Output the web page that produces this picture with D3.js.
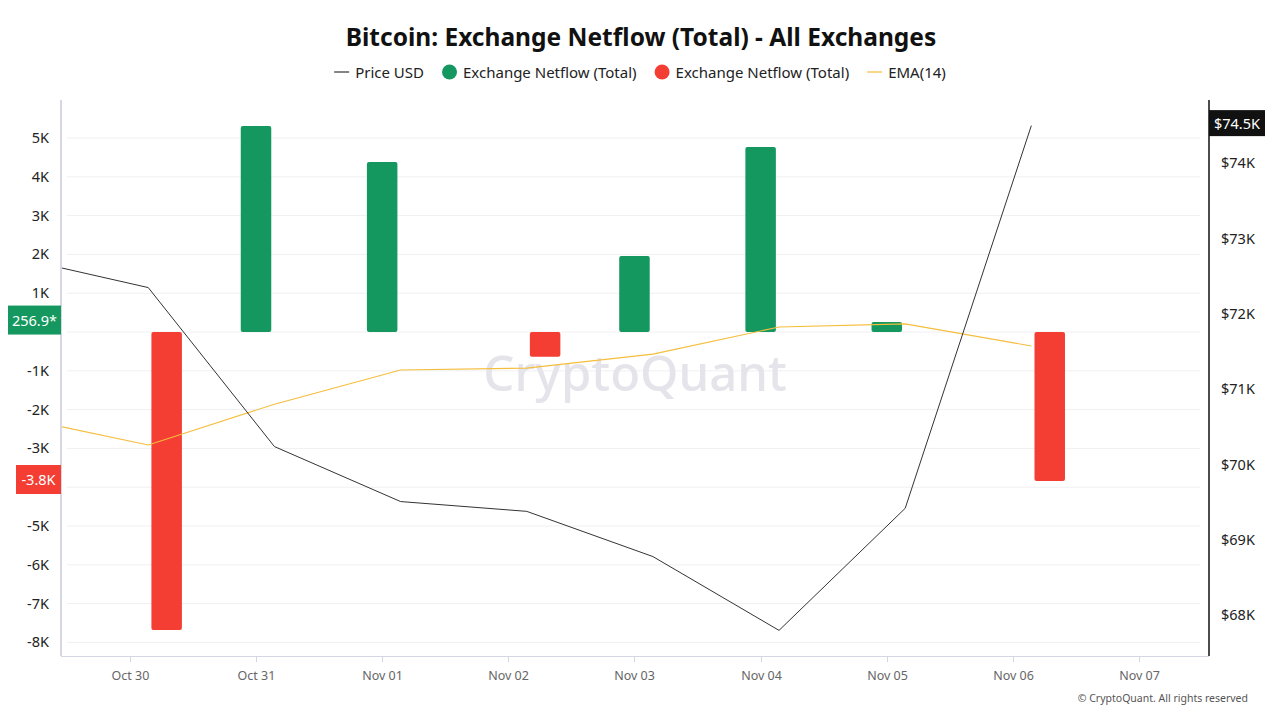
<!DOCTYPE html>
<html>
<head>
<meta charset="utf-8">
<script src="https://cdn.jsdelivr.net/npm/d3@7"></script>
<style>
  html, body { margin: 0; padding: 0; background: #fff; }
  svg { display: block; font-family: "Noto Sans", "Open Sans", sans-serif; }
</style>
</head>
<body>
<svg id="chart" width="1280" height="720"></svg>
<script>
// ---- data ----
const dates = ["2024-10-29","2024-10-30","2024-10-31","2024-11-01","2024-11-02","2024-11-03","2024-11-04","2024-11-05","2024-11-06"];
const priceUSD = [72730, 72350, 70240, 69510, 69380, 68780, 67800, 69420, 74500];
const ema14 = [-2230, -2910, -1860, -980, -930, -570, 130, 210, -360];
const netflowDates = ["2024-10-30","2024-10-31","2024-11-01","2024-11-02","2024-11-03","2024-11-04","2024-11-05","2024-11-06"];
const netflow = [-7680, 5310, 4380, -640, 1960, 4770, 256.9, -3840];
const xTickDates = ["2024-10-30","2024-10-31","2024-11-01","2024-11-02","2024-11-03","2024-11-04","2024-11-05","2024-11-06","2024-11-07"];
const leftTicks = [-8000,-7000,-6000,-5000,-4000,-3000,-2000,-1000,0,1000,2000,3000,4000,5000];
const rightTicks = [68000,69000,70000,71000,72000,73000,74000];

const colors = { green: "#14985f", red: "#f43e34", price: "#333333", ema: "#f5bd3c" };

const svg = d3.select("#chart");
const plot = { left: 61, right: 1209, top: 100, bottom: 656 };
const parse = d3.utcParse("%Y-%m-%d");
const hr = 3600 * 1000;

const x = d3.scaleUtc()
  .domain([new Date(+parse("2024-10-30") - 13.1 * hr), new Date(+parse("2024-11-07") + 13.3 * hr)])
  .range([plot.left, plot.right]);
const yL = d3.scaleLinear().domain([-8350, 5980]).range([plot.bottom, plot.top]);
const yR = d3.scaleLinear().domain([67460, 74840]).range([plot.bottom, plot.top]);

// clip
svg.append("defs").append("clipPath").attr("id", "clip")
  .append("rect").attr("x", plot.left).attr("y", plot.top)
  .attr("width", plot.right - plot.left).attr("height", plot.bottom - plot.top);

// title
svg.append("text").attr("x", 641).attr("y", 46).attr("text-anchor", "middle")
  .attr("font-size", 24.5).attr("font-weight", 700).attr("fill", "#111")
  .text("Bitcoin: Exchange Netflow (Total) - All Exchanges");

// legend
const legend = svg.append("g");
const items = [
  { type: "line", color: colors.price, label: "Price USD" },
  { type: "dot", color: colors.green, label: "Exchange Netflow (Total)" },
  { type: "dot", color: colors.red, label: "Exchange Netflow (Total)" },
  { type: "line", color: colors.ema, label: "EMA(14)" }
];
let lx = 0;
const gap = 18;
items.forEach((it) => {
  const g = legend.append("g").attr("transform", `translate(${lx},0)`);
  if (it.type === "line") {
    g.append("line").attr("x1", 0).attr("x2", 15).attr("y1", 0).attr("y2", 0)
      .attr("stroke", it.color).attr("stroke-width", 1.2);
  } else {
    g.append("circle").attr("cx", 7.5).attr("cy", 0).attr("r", 7.5).attr("fill", it.color);
  }
  const t = g.append("text").attr("x", 21).attr("y", 5.5)
    .attr("font-size", 15).attr("fill", "#222").text(it.label);
  lx += 21 + t.node().getComputedTextLength() + gap;
});
const legW = lx - gap;
legend.attr("transform", `translate(${640 - legW / 2},72)`);

// gridlines
svg.append("g").selectAll("line").data(leftTicks).join("line")
  .attr("x1", 67).attr("x2", 1200)
  .attr("y1", d => yL(d)).attr("y2", d => yL(d))
  .attr("stroke", "#f0f0f3").attr("stroke-width", 1);

// watermark
svg.append("text").attr("x", 635).attr("y", 391).attr("text-anchor", "middle")
  .attr("font-size", 49).attr("font-weight", 500).attr("fill", "#e4e4ea")
  .text("CryptoQuant");

// bars
const barW = 30.5;
const bars = svg.append("g").attr("clip-path", "url(#clip)");
netflowDates.forEach((ds, i) => {
  const v = netflow[i];
  const pos = v >= 0;
  const cx = pos ? x(parse(ds)) : x(new Date(+parse(ds) + 7 * hr));
  const y0 = yL(0), y1 = yL(v);
  bars.append("rect")
    .attr("x", cx - barW / 2).attr("width", barW)
    .attr("y", Math.min(y0, y1)).attr("height", Math.abs(y1 - y0))
    .attr("rx", 2).attr("fill", pos ? colors.green : colors.red);
});

// lines
const pts = dates.map((d, i) => ({ t: new Date(+parse(d) + 3.5 * hr), p: priceUSD[i], e: ema14[i] }));
const lines = svg.append("g").attr("clip-path", "url(#clip)");
lines.append("path").datum(pts)
  .attr("d", d3.line().x(d => x(d.t)).y(d => yL(d.e)))
  .attr("fill", "none").attr("stroke", colors.ema).attr("stroke-width", 1.1);
lines.append("path").datum(pts)
  .attr("d", d3.line().x(d => x(d.t)).y(d => yR(d.p)))
  .attr("fill", "none").attr("stroke", colors.price).attr("stroke-width", 1);

// axes lines
svg.append("line").attr("x1", plot.left).attr("x2", plot.left).attr("y1", plot.top).attr("y2", plot.bottom)
  .attr("stroke", "#d6d6e4").attr("stroke-width", 2);
svg.append("line").attr("x1", plot.left).attr("x2", plot.right).attr("y1", plot.bottom + 0.5).attr("y2", plot.bottom + 0.5)
  .attr("stroke", "#d4d6e2").attr("stroke-width", 1);
svg.append("line").attr("x1", plot.right).attr("x2", plot.right).attr("y1", plot.top).attr("y2", plot.bottom)
  .attr("stroke", "#111").attr("stroke-width", 1.5);

// x ticks
const xg = svg.append("g");
xTickDates.forEach(ds => {
  const xx = Math.round(x(parse(ds))) + 0.5;
  xg.append("line").attr("x1", xx).attr("x2", xx).attr("y1", plot.bottom).attr("y2", plot.bottom + 6)
    .attr("stroke", "#d4d6e2");
  xg.append("text").attr("x", xx).attr("y", 680).attr("text-anchor", "middle")
    .attr("font-size", 12.5).attr("fill", "#666").text(d3.utcFormat("%b %d")(parse(ds)));
});

// badges values
const lastGreen = netflow[6];
const lastRed = netflow[7];
const lastPrice = priceUSD[priceUSD.length - 1];

// left ticks (labels hidden behind the value badges are skipped)
const fmtK = d => (d === 0 ? "0" : (d / 1000) + "K");
const covered = [yL(lastGreen) - 2, yL(lastRed) - 1.5];
svg.append("g").selectAll("text")
  .data(leftTicks.filter(d => covered.every(c => Math.abs(yL(d) - c) > 16)))
  .join("text")
  .attr("x", 49).attr("y", d => yL(d) + 5).attr("text-anchor", "end")
  .attr("font-size", 14.5).attr("fill", "#222").text(fmtK);

// right ticks
svg.append("g").selectAll("text").data(rightTicks).join("text")
  .attr("x", 1221).attr("y", d => yR(d) + 5)
  .attr("font-size", 14.5).attr("fill", "#222").text(d => "$" + (d / 1000) + "K");

// badges
function badge(xr, cy, w, h, fill, label, anchorLeft) {
  const g = svg.append("g");
  const xx = anchorLeft ? xr : xr - w;
  g.append("rect").attr("x", xx).attr("y", cy - h / 2).attr("width", w).attr("height", h).attr("fill", fill);
  g.append("text").attr("x", xx + w / 2).attr("y", cy + 5.5).attr("text-anchor", "middle")
    .attr("font-size", 14.5).attr("fill", "#fff").text(label);
}
const hyph = s => s.replace("\u2212", "-");
badge(plot.left, covered[0], 53, 29, colors.green, lastGreen.toFixed(1) + "*", false);
badge(plot.left, covered[1], 45, 29, colors.red, hyph((lastRed / 1000).toFixed(1)) + "K", false);
badge(plot.right, yR(lastPrice) - 2.5, 56, 26, "#111", "$" + (lastPrice / 1000).toFixed(1) + "K", true);

// copyright
svg.append("text").attr("x", 1248).attr("y", 702).attr("text-anchor", "end")
  .attr("font-size", 10.5).attr("fill", "#555").text("© CryptoQuant. All rights reserved");
</script>
</body>
</html>
